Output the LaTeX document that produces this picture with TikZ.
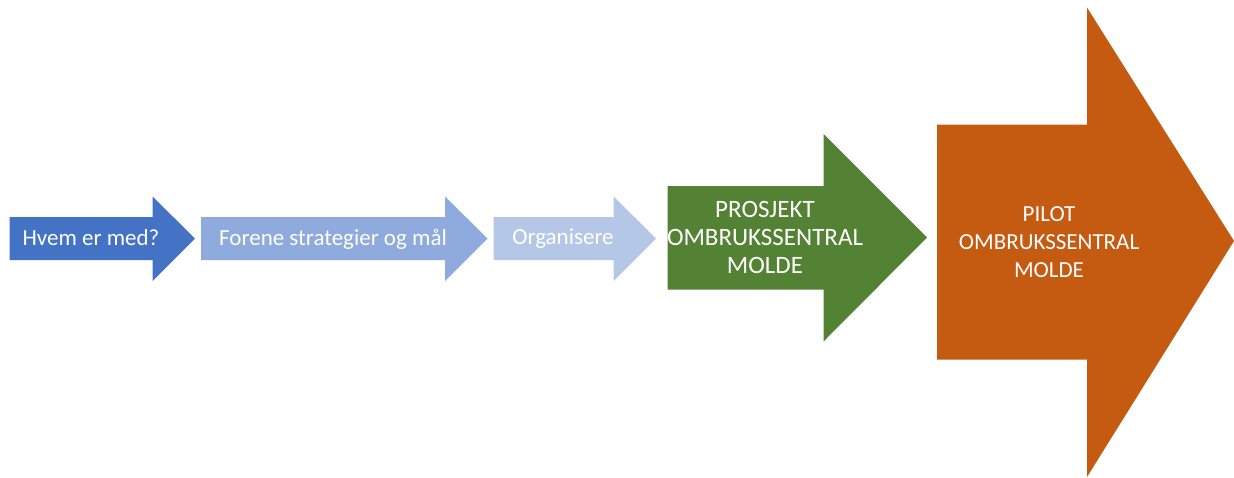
\documentclass[tikz,border=0pt]{standalone}
\usepackage{fontspec}
\setmainfont{Carlito}
\usepackage{xcolor}
\definecolor{stepblue}{HTML}{4472C4}
\definecolor{stepmid}{HTML}{8FAADC}
\definecolor{steplight}{HTML}{B4C7E7}
\definecolor{stepgreen}{HTML}{548235}
\definecolor{steporange}{HTML}{C55A11}
\tikzset{
  steptext/.style={text=white,align=center,anchor=base,inner sep=0pt,
    font=\fontsize{23}{28}\selectfont},
}

\begin{document}
\begin{tikzpicture}[x=1pt,y=-1pt]
\useasboundingbox (0,0) rectangle (1234,477);

% 1
\fill[stepblue] (9.5,217) -- (152.5,217) -- (152.5,196.5) -- (195,238.5)
  -- (152.5,281) -- (152.5,260) -- (9.5,260) -- cycle;
\node[steptext] (HvemMed) at (91,245) {Hvem er med?};

% 2
\fill[stepmid] (201,217) -- (445,217) -- (445,196.5) -- (487.5,238.5)
  -- (445,281) -- (445,260) -- (201,260) -- cycle;
\node[steptext] (Forene) at (333,245) {Forene strategier og mål};

% 3
\fill[steplight] (493.5,217) -- (613.5,217) -- (613.5,196.5) -- (656,238.5)
  -- (613.5,281) -- (613.5,260) -- (493.5,260) -- cycle;
\node[steptext] (Organisere) at (563,244) {Organisere};

% 4
\fill[stepgreen] (667.5,186) -- (823.5,186) -- (823.5,134) -- (927,237.5)
  -- (823.5,341.5) -- (823.5,289.5) -- (667.5,289.5) -- cycle;
\node[steptext,font=\fontsize{25}{28}\selectfont] (Prosjekt) at (765,273.3)
  {PROSJEKT\\OMBRUKSSENTRAL\\MOLDE};

% 5
\fill[steporange] (937,124.5) -- (1087,124.5) -- (1087,7.5) -- (1234,241)
  -- (1087,477) -- (1087,359.5) -- (937,359.5) -- cycle;
\node[steptext] (Pilot) at (1049,277.7) {PILOT\\OMBRUKSSENTRAL\\MOLDE};

\end{tikzpicture}
\end{document}
